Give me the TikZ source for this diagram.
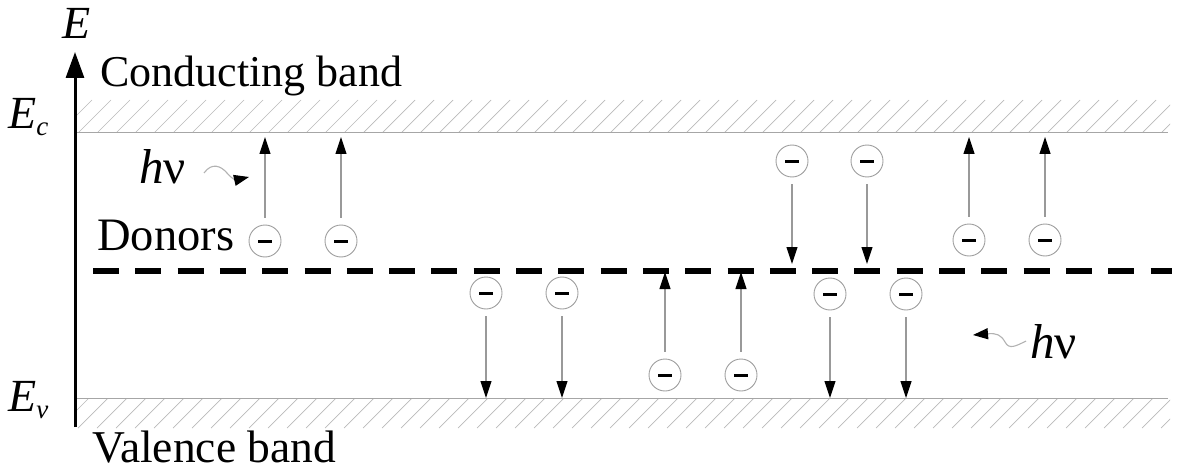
\documentclass[tikz,border=0pt]{standalone}
\usepackage{fontspec}
\setmainfont{Liberation Serif}
\usetikzlibrary{arrows.meta}
\begin{document}
\begin{tikzpicture}[x=1pt,y=-1pt,
  electron/.style={circle, draw=gray!75, line width=0.9pt, minimum size=32pt,
    inner sep=0pt, fill=white},
  jump/.style={draw=gray!80, line width=1.1pt, shorten <=7pt,
    -{Triangle[length=17pt,width=11pt,black]}},
  hatch/.style={draw=gray!55, line width=0.7pt},
  bandedge/.style={draw=gray!70, line width=1pt},
  photon/.style={draw=gray!60, line width=1.1pt,
    -{Triangle[length=15pt,width=11pt,black]}},
  lbl/.style={font=\fontsize{45}{48}\selectfont, inner sep=0pt},
  sym/.style={font=\fontsize{46}{50}\selectfont, inner sep=0pt}
]
\useasboundingbox (0,0) rectangle (1190,473);

% hatched conduction band
\begin{scope}
  \clip (75,100) rectangle (1170,133);
  \foreach \x in {40,59,...,1200} \draw[hatch] (\x,133) -- ++(33,-33);
\end{scope}
\draw[bandedge] (75,133) -- (1168,133);

% hatched valence band
\begin{scope}
  \clip (75,398) rectangle (1170,428);
  \foreach \x in {40,59,...,1200} \draw[hatch] (\x,428) -- ++(30,-30);
\end{scope}
\draw[bandedge] (75,398) -- (1168,398);

% donor level
\draw[line width=5.5pt, dash pattern=on 26pt off 16.3pt] (93,271) -- (1172,271);

% energy axis
\coordinate (axbot) at (75,427);
\coordinate (axtop) at (75,52);
\draw[line width=3pt, -{Triangle[length=26pt,width=18pt]}] (axbot) -- (axtop);

% labels
\node[sym, font=\fontsize{46}{50}\selectfont\itshape, anchor=base] (E) at (77,39) {E};
\node[sym, anchor=base west] (Ec) at (8,129) {\textit{E}\raisebox{-7pt}{\fontsize{27}{29}\selectfont\textit{c}}};
\node[sym, anchor=base west] (Ev) at (8,411) {\textit{E}\raisebox{-7pt}{\fontsize{27}{29}\selectfont\textit{v}}};
\node[lbl, font=\fontsize{44}{48}\selectfont, anchor=base west] (cb) at (100,87) {Conducting band};
\node[lbl, font=\fontsize{45.5}{48}\selectfont, anchor=base west] (vb) at (92,462) {Valence band};
\node[lbl, font=\fontsize{46.5}{50}\selectfont, anchor=base west] (don) at (97,250) {Donors};
\node[sym, font=\fontsize{49}{52}\selectfont, anchor=base west] (hv1) at (139,183) {\textit{h}ν};
\node[sym, font=\fontsize{49}{52}\selectfont, anchor=base west] (hv2) at (1030,358) {\textit{h}ν};

% incoming and emitted photons
\coordinate (p1s) at (204,173);
\coordinate (p1e) at (249,177);
\draw[photon] (p1s) .. controls (212,162) and (221,166) .. (227,173)
  .. controls (232,179) and (236,180) .. (p1e);
\coordinate (p2s) at (1026,341);
\coordinate (p2e) at (973,335);
\draw[photon] (p2s) .. controls (1016,346) and (1009,350) .. (1005,342)
  .. controls (1001,335) and (997,333) .. (p2e);

% electrons
\foreach \n/\x/\y in {1/265/241, 2/341/241, 3/486/293, 4/562/293,
                      5/665/375, 6/741/375, 7/792/161, 8/867/161,
                      9/969/240, 10/1045/240, 11/830/294, 12/906/294}
  \node[electron] (e\n) at (\x,\y) {\rule[-1.5pt]{14pt}{3pt}};

% arrow tips on the levels
\coordinate (t1) at (265,137);  \coordinate (t2) at (341,137);
\coordinate (t3) at (486,398);  \coordinate (t4) at (562,398);
\coordinate (t5) at (665,272);  \coordinate (t6) at (741,272);
\coordinate (t7) at (792,264);  \coordinate (t8) at (867,264);
\coordinate (t9) at (969,137);  \coordinate (t10) at (1045,137);
\coordinate (t11) at (830,398); \coordinate (t12) at (906,398);

% transitions
\foreach \n in {1,...,12}
  \draw[jump] (e\n) -- (t\n);
\end{tikzpicture}
\end{document}
